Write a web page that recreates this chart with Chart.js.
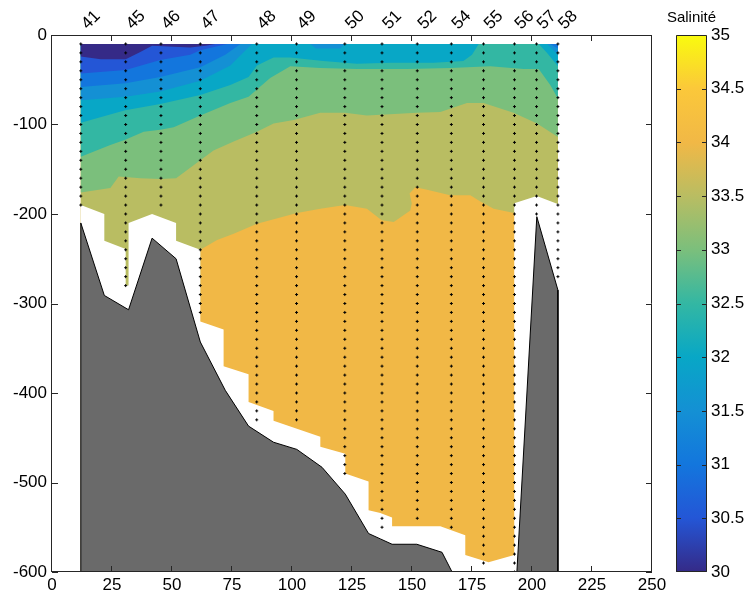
<!DOCTYPE html>
<html>
<head>
<meta charset="utf-8">
<script src="https://cdn.jsdelivr.net/npm/chart.js@4.4.1/dist/chart.umd.min.js"></script>
<style>
  html, body { margin: 0; padding: 0; background: #fff; }
  #wrap { position: relative; width: 745px; height: 592px; }
  #main { position: absolute; left: 0; top: 0; }
  #bar { position: absolute; left: 660px; top: 0; }
</style>
</head>
<body>
<div id="wrap">
  <canvas id="main" width="745" height="592"></canvas>
  <canvas id="bar" width="85" height="592"></canvas>
</div>
<script>
// stations along the section (distance, deepest sample)
const stationNames = ['41', '45', '46', '47', '48', '49', '50', '51', '52', '54', '55', '56', '57', '58'];
const stationDist = [12, 30.7, 45.4, 61.8, 85.3, 101.9, 122, 137.5, 152.2, 166.4, 179.8, 192.7, 201.9, 210.8];
const stationMaxDepth = [190, 280, 190, 310, 430, 430, 490, 550, 540, 550, 590, 600, 200, 270];

const xTicks = [0, 25, 50, 75, 100, 125, 150, 175, 200, 225, 250];
const yTicks = [0, -100, -200, -300, -400, -500, -600];
const cbTicks = [30, 30.5, 31, 31.5, 32, 32.5, 33, 33.5, 34, 34.5, 35];
const cbTitle = 'Salinité';

// salinity contour lines (distance, depth), shallow to deep
const s305X = [12, 20.3, 30.7, 36.8, 41.7, 57.6, 63.9, 68];
const s305Y = [-24, -27, -27, -19, -12, -14, -12, -10];
const s31X = [12, 30.7, 45.1, 57.6, 61.8, 68, 72.9];
const s31Y = [-43, -39, -28, -22, -17, -13, -10];
const s315X = [12, 30.7, 45.1, 61.8, 72.2, 78.5, 207.5, 210.8];
const s315Y = [-58, -54, -47, -36, -22, -10, -10, -15];
const s32X = [12, 30.7, 45.1, 61.8, 74.3, 83.3, 107.6, 110, 120, 122, 206.3, 210.8];
const s32Y = [-73, -69, -63, -51, -34, -10, -10, -15, -15, -10, -10, -22];
const s325X = [12, 30.5, 45.1, 61.8, 74.3, 81.9, 85.4, 92.3, 99.3, 113, 127, 141, 158.9, 171.4, 175, 177.8, 202.8, 206.3, 210.8];
const s325Y = [-98, -84, -77, -67, -56, -47, -34, -25, -25, -29, -32, -31, -31, -29, -22, -10, -10, -20, -35];
const s33X = [12, 24.3, 30.5, 38.2, 45.1, 50.7, 61.8, 74.3, 81.9, 90.9, 99.3, 111.8, 127.1, 147.9, 166, 182.6, 196.5, 202.8, 207.6, 210.8];
const s33Y = [-136, -123, -117, -108, -106, -103, -90, -76, -69, -48, -35, -37, -38, -38, -37, -35, -38, -38, -56, -71];
const s335X = [12, 24.3, 27.8, 36.8, 45.1, 51.7, 56.2, 61.8, 67.3, 75.7, 85.4, 92.3, 100.7, 111.8, 122.1, 131.2, 152.1, 161.8, 172.9, 179.8, 192.3, 202.1, 210.8];
const s335Y = [-176, -171, -158, -160, -161, -160, -151, -140, -129, -119, -108, -99, -95, -87, -87, -90, -87, -86, -76, -76, -87, -99, -114];
const s34X = [12, 61.8, 61.8, 68.8, 75.7, 85.4, 102.1, 111.8, 122.1, 131.2, 137.4, 142.4, 149.3, 149.9, 149, 151.4, 156.3, 165.9, 174.3, 178.5, 184, 192.6, 210.8];
const s34Y = [-300, -300, -240, -229, -222, -211, -199, -194, -190, -194, -207, -209, -196, -188, -177, -170, -173, -179, -179, -186, -194, -199, -199];
const deepX = [12, 210.8];
const deepY = [-600, -600];

// bottom of the gridded data
const maskX = [12, 21.8, 21.8, 30.7, 30.7, 31.9, 31.9, 41.7, 51.7, 51.7, 61.8, 61.8, 71.5, 71.5, 81.9, 81.9, 92.3, 92.3, 111.8, 111.8, 122.2, 122.2, 131.9, 131.9, 136.8, 141.7, 141.7, 161.8, 172.2, 172.2, 181.9, 192.6, 192.6, 202, 211, 211, 12];
const maskY = [-190, -200, -230, -239, -280, -280, -210, -200, -210, -230, -240, -320, -329, -370, -379, -410, -420, -431, -449, -460, -468, -490, -499, -531, -534, -539, -549, -549, -559, -581, -589, -581, -188, -180, -189, -600, -600];

// bathymetry
const bathyLeftX = [12, 12, 21.8, 31.9, 41.7, 51.7, 61.8, 72.2, 81.9, 92.3, 102, 112.5, 122.2, 131.9, 136.8, 141.7, 152, 162.5, 166.7];
const bathyLeftY = [-600, -210, -291, -307, -227, -250, -343, -397, -437, -455, -463, -483, -513, -557, -563, -569, -569, -578, -600];
const bathyRightX = [193.7, 202, 210.8, 210.8];
const bathyRightY = [-600, -203, -285, -600];

const bandColors = ['#f1b846', '#b9bd62', '#7bbf7c', '#33b7a3', '#08a7c6', '#1490d4', '#1376dd', '#2456d6', '#352a87'];
const cbStops = [[30, '#352a87'], [30.5, '#2456d6'], [31, '#1376dd'], [31.5, '#1490d4'], [32, '#08a7c6'],
  [32.5, '#33b7a3'], [33, '#7bbf7c'], [33.5, '#b9bd62'], [34, '#f1b846'], [34.5, '#fbc83a'], [35, '#f9fb0e']];

const fontFam = "'Liberation Sans', Arial, sans-serif";

function toPts(xs, ys) {
  return xs.map((x, i) => ({ x: x, y: ys[i] }));
}

function band(xs, ys) {
  const pts = [{ x: 12, y: -10 }].concat(toPts(xs, ys));
  pts.push({ x: 210.8, y: -10 }, { x: 12, y: -10 });
  return pts;
}

function closed(xs, ys) {
  const pts = toPts(xs, ys);
  pts.push(pts[0]);
  return pts;
}

function poly(pts, color, edge) {
  return {
    data: pts,
    showLine: true,
    fill: 'shape',
    backgroundColor: color,
    borderColor: edge || color,
    borderWidth: edge ? 1 : 0,
    pointRadius: 0,
    tension: 0
  };
}

const lines = [[deepX, deepY], [s34X, s34Y], [s335X, s335Y], [s33X, s33Y], [s325X, s325Y],
  [s32X, s32Y], [s315X, s315Y], [s31X, s31Y], [s305X, s305Y]];

const dots = [];
stationDist.forEach((x, i) => {
  for (let d = 10; d <= stationMaxDepth[i]; d += 10) {
    dots.push({ x: x, y: -d });
  }
});

const sets = lines.map((l, i) => poly(band(l[0], l[1]), bandColors[i]));
sets.push(poly(closed(maskX, maskY), '#ffffff'));
sets.push(poly(closed(bathyLeftX, bathyLeftY), '#6a6a6a', '#000000'));
sets.push(poly(closed(bathyRightX, bathyRightY), '#6a6a6a', '#000000'));
sets.push({
  data: dots,
  pointStyle: 'cross',
  pointRadius: 1.5,
  borderColor: '#000000',
  borderWidth: 1,
  showLine: false
});
// first in the list is painted first
sets.forEach((d, i) => { d.order = sets.length - i; });

const frame = {
  id: 'frame',
  afterDatasetsDraw(chart) {
    const { ctx, chartArea: a, scales } = chart;
    ctx.save();
    ctx.strokeStyle = '#262626';
    ctx.lineWidth = 1;
    ctx.beginPath();
    ctx.rect(a.left - 0.5, a.top + 0.5, a.right - a.left, a.bottom - a.top - 1);
    xTicks.forEach(v => {
      const px = Math.round(scales.x.getPixelForValue(v)) - 0.5;
      ctx.moveTo(px, a.bottom); ctx.lineTo(px, a.bottom - 6);
      ctx.moveTo(px, a.top); ctx.lineTo(px, a.top + 6);
    });
    yTicks.forEach(v => {
      const py = Math.round(scales.y.getPixelForValue(v)) + 0.5;
      ctx.moveTo(a.left, py); ctx.lineTo(a.left + 6, py);
      ctx.moveTo(a.right, py); ctx.lineTo(a.right - 6, py);
    });
    ctx.stroke();
    ctx.restore();
  }
};

new Chart(document.getElementById('main'), {
  type: 'scatter',
  data: { datasets: sets },
  options: {
    responsive: false,
    animation: false,
    devicePixelRatio: 1,
    events: [],
    layout: { padding: { right: 93 } },
    plugins: { legend: { display: false }, tooltip: { enabled: false } },
    scales: {
      x: {
        type: 'linear', position: 'bottom', min: 0, max: 250,
        afterBuildTicks: s => { s.ticks = xTicks.map(v => ({ value: v })); },
        ticks: { maxRotation: 0, padding: 3, color: '#000', font: { family: fontFam, size: 17 } },
        grid: { display: false, drawTicks: false },
        border: { display: false },
        afterFit: s => { s.height = 20; }
      },
      x2: {
        type: 'linear', axis: 'x', position: 'top', min: 0, max: 250,
        afterBuildTicks: s => { s.ticks = stationDist.map(v => ({ value: v })); },
        ticks: {
          autoSkip: false, minRotation: 45, maxRotation: 45, padding: 1, labelOffset: 18,
          color: '#000', font: { family: fontFam, size: 17 },
          callback: (v, i) => stationNames[i]
        },
        grid: { display: false, drawTicks: false },
        border: { display: false },
        afterFit: s => { s.height = 35; }
      },
      y: {
        type: 'linear', min: -600, max: 0,
        afterBuildTicks: s => { s.ticks = yTicks.map(v => ({ value: v })); },
        ticks: { padding: 5, color: '#000', font: { family: fontFam, size: 17 } },
        grid: { display: false, drawTicks: false },
        border: { display: false },
        afterFit: s => { s.width = 52; }
      }
    }
  },
  plugins: [frame]
});

const cbFrame = {
  id: 'cbFrame',
  afterDatasetsDraw(chart) {
    const { ctx, chartArea: a, scales } = chart;
    ctx.save();
    ctx.strokeStyle = '#262626';
    ctx.lineWidth = 1;
    ctx.beginPath();
    ctx.rect(a.left + 0.5, a.top + 0.5, a.right - a.left - 1, a.bottom - a.top - 1);
    cbTicks.slice(1, -1).forEach(v => {
      const py = Math.round(scales.y.getPixelForValue(v)) + 0.5;
      ctx.moveTo(a.left, py); ctx.lineTo(a.left + 5, py);
      ctx.moveTo(a.right, py); ctx.lineTo(a.right - 5, py);
    });
    ctx.stroke();
    // colorbar title, centred over the bar
    ctx.fillStyle = '#000';
    ctx.font = '15px ' + fontFam;
    ctx.textAlign = 'center';
    ctx.textBaseline = 'middle';
    ctx.fillText(cbTitle, (a.left + a.right) / 2, 18);
    ctx.restore();
  }
};

new Chart(document.getElementById('bar'), {
  type: 'bar',
  data: {
    labels: [''],
    datasets: [{
      data: [[30, 35]],
      barPercentage: 1,
      categoryPercentage: 1,
      borderWidth: 0,
      backgroundColor: c => {
        const ch = c.chart;
        const ys = ch.scales.y;
        if (!ys || !ch.chartArea) return cbStops[0][1];
        const g = ch.ctx.createLinearGradient(0, ys.getPixelForValue(30), 0, ys.getPixelForValue(35));
        cbStops.forEach(s => g.addColorStop((s[0] - 30) / 5, s[1]));
        return g;
      }
    }]
  },
  options: {
    responsive: false,
    animation: false,
    devicePixelRatio: 1,
    events: [],
    layout: { padding: { left: 16, top: 35, bottom: 20 } },
    plugins: { legend: { display: false }, tooltip: { enabled: false } },
    scales: {
      x: { display: false },
      y: {
        position: 'right', min: 30, max: 35,
        afterBuildTicks: s => { s.ticks = cbTicks.map(v => ({ value: v })); },
        ticks: { padding: 4, color: '#000', font: { family: fontFam, size: 17 }, callback: v => String(v) },
        grid: { display: false, drawTicks: false },
        border: { display: false },
        afterFit: s => { s.width = 38; }
      }
    }
  },
  plugins: [cbFrame]
});
</script>
</body>
</html>
